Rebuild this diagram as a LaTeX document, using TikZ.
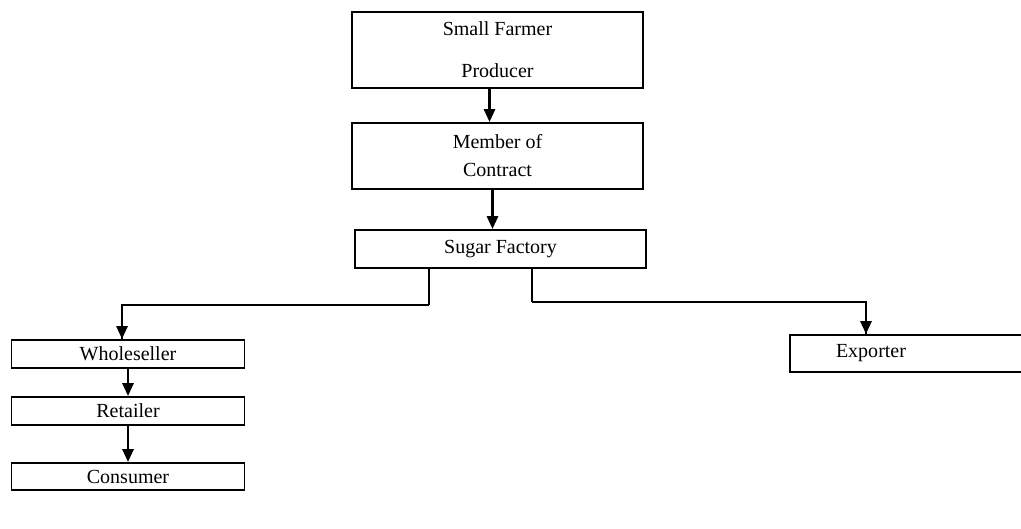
\documentclass[tikz,border=0pt]{standalone}
\usepackage{fontspec}
\setmainfont{Liberation Serif}
\usetikzlibrary{arrows.meta}

\begin{document}
\begin{tikzpicture}[
          x=0.5pt,
          y=-0.5pt,
          every node/.style={
            draw,
            line width=0.9pt,
            rectangle,
            inner sep=0pt,
            font=\fontsize{10}{12}\selectfont,
            align=center,
          },
          flow/.style={line width=1.4pt},
          branch/.style={line width=0.8pt},
          >={Triangle[width=5.5pt,length=6.5pt]},
        ]
        \useasboundingbox (0,0) rectangle (1021,529);
        \node[minimum width=145.5pt,minimum height=38pt] at (497.5,50) (farmer) {Small Farmer\\[9pt]Producer} ;
        \node[minimum width=145.5pt,minimum height=33pt] at (497.5,156) (member) {Member of\\[2pt]Contract} ;
        \node[minimum width=145.5pt,minimum height=19pt] at (500.5,249) (sugar) {Sugar Factory} ;
        \node[minimum width=116.5pt,minimum height=14pt] at (128,354) (whole) {Wholeseller} ;
        \node[minimum width=116.5pt,minimum height=14pt] at (128,411) (retail) {Retailer} ;
        \node[minimum width=116.5pt,minimum height=13.5pt] at (128,476.5) (consumer) {Consumer} ;
        \node[minimum width=120pt,minimum height=18.5pt,
              label={[draw=none,xshift=-19.5pt]center:Exporter}] at (910,353.5) (exporter) {} ;
        \coordinate (lsplit) at (429,305) ;
        \coordinate (rsplit) at (532,302) ;
        \draw[flow,->] ([xshift=-4pt]farmer.south)--([xshift=-4pt]member.north) ;
        \draw[flow,->] ([xshift=-2.5pt]member.south)--([xshift=-2.5pt]member.south |- sugar.north) ;
        \draw[flow] (sugar.south -| lsplit)--(lsplit) ;
        \draw[branch] (lsplit)-|([xshift=-3pt]whole.north) ;
        \draw[flow,->] ([xshift=-3pt,yshift=15pt]whole.north)--([xshift=-3pt]whole.north) ;
        \draw[flow] (sugar.south -| rsplit)--(rsplit) ;
        \draw[branch] (rsplit)-|([xshift=-22pt]exporter.north) ;
        \draw[flow,->] ([xshift=-22pt,yshift=15pt]exporter.north)--([xshift=-22pt]exporter.north) ;
        \draw[flow,->] (whole)--(retail) ;
        \draw[flow,->] (retail)--(consumer) ;
        \end{tikzpicture}
\end{document}
